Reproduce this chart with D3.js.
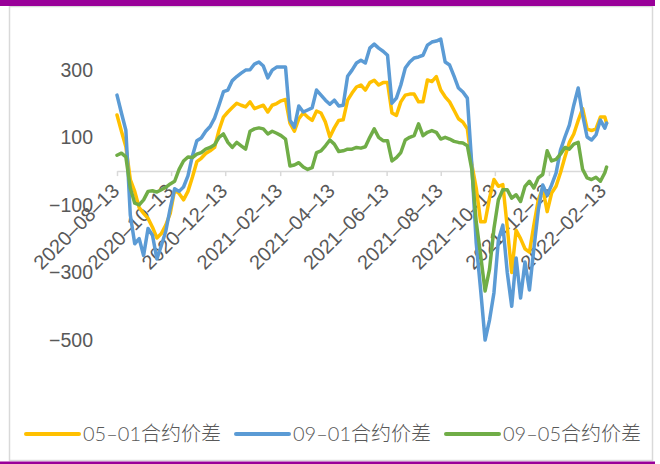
<!DOCTYPE html>
<html>
<head>
<meta charset="utf-8">
<title>合约价差</title>
<style>
  html, body { margin: 0; padding: 0; background: #fff; }
  svg { display: block; font-family: Lato, "Noto Sans CJK SC", sans-serif; font-weight: 300; }
</style>
</head>
<body>
<svg width="660" height="464"></svg>
<script src="https://cdn.jsdelivr.net/npm/d3@7"></script>
<script>
// sample dates (every 5 days) for the three spread series
var dates = [
  "2020-08-13","2020-08-18","2020-08-23","2020-08-28","2020-09-02","2020-09-07","2020-09-12","2020-09-17","2020-09-22","2020-09-27",
  "2020-10-02","2020-10-07","2020-10-12","2020-10-17","2020-10-22","2020-10-27","2020-11-01","2020-11-06","2020-11-11","2020-11-16",
  "2020-11-21","2020-11-26","2020-12-01","2020-12-06","2020-12-11","2020-12-16","2020-12-21","2020-12-26","2020-12-31","2021-01-05",
  "2021-01-10","2021-01-15","2021-01-20","2021-01-25","2021-01-30","2021-02-04","2021-02-09","2021-02-14","2021-02-19","2021-02-24",
  "2021-03-01","2021-03-06","2021-03-11","2021-03-16","2021-03-21","2021-03-26","2021-03-31","2021-04-05","2021-04-10","2021-04-15",
  "2021-04-20","2021-04-25","2021-04-30","2021-05-05","2021-05-10","2021-05-15","2021-05-20","2021-05-25","2021-05-30","2021-06-04",
  "2021-06-09","2021-06-14","2021-06-19","2021-06-24","2021-06-29","2021-07-04","2021-07-09","2021-07-14","2021-07-19","2021-07-24",
  "2021-07-29","2021-08-03","2021-08-08","2021-08-13","2021-08-18","2021-08-23","2021-08-28","2021-09-02","2021-09-07","2021-09-12",
  "2021-09-17","2021-09-22","2021-09-27","2021-10-02","2021-10-07","2021-10-12","2021-10-17","2021-10-22","2021-10-27","2021-11-01",
  "2021-11-06","2021-11-11","2021-11-16","2021-11-21","2021-11-26","2021-12-01","2021-12-06","2021-12-11","2021-12-16","2021-12-21",
  "2021-12-26","2021-12-31","2022-01-05","2022-01-10","2022-01-15","2022-01-20","2022-01-25","2022-01-30","2022-02-04","2022-02-09",
  "2022-02-14","2022-02-16"
];

var spread0501 = [
  166,118,72,-25,-60,-108,-125,-140,-166,-198,
  -185,-160,-125,-56,-66,-85,-60,-18,28,38,
  52,60,70,121,160,175,188,201,195,190,
  205,185,190,195,175,195,200,208,212,142,
  118,155,172,160,150,178,172,145,101,128,
  150,152,210,231,249,255,240,262,269,255,
  262,262,172,165,205,225,228,228,205,205,
  270,265,280,240,220,205,180,155,145,125,
  20,-50,-150,-150,-80,-25,-45,-40,-166,-300,
  -175,-200,-230,-240,-160,-85,-50,-120,-65,-45,
  -5,42,85,110,150,185,125,120,125,160,
  160,142
];

var spread0901 = [
  225,172,121,-130,-215,-200,-250,-170,-190,-260,
  -220,-178,-110,-52,-60,-47,-14,45,90,98,
  118,132,157,195,235,240,268,280,290,299,
  300,317,323,311,276,299,308,308,308,151,
  130,193,175,181,187,240,225,210,198,210,
  193,195,281,299,320,328,320,364,376,364,
  355,343,201,216,255,305,323,335,338,343,
  373,382,385,391,323,314,281,246,234,216,
  20,-213,-352,-500,-441,-360,-204,-160,-300,-400,
  -257,-376,-269,-352,-230,-115,-41,-71,-41,-6,
  62,101,136,195,246,166,101,92,107,151,
  127,142
];

var spread0905 = [
  47,53,42,-50,-95,-100,-85,-60,-58,-62,
  -55,-48,-38,-30,5,30,42,40,50,55,
  65,70,78,100,110,85,70,85,75,65,
  118,125,128,125,110,118,112,105,95,15,
  18,25,12,5,10,55,60,75,92,80,
  58,60,65,65,70,68,72,100,125,100,
  90,90,30,40,55,92,100,105,140,105,
  115,120,115,95,100,95,88,85,83,75,
  5,-150,-250,-355,-290,-170,-85,-55,-55,-80,
  -70,-90,-45,-30,-50,-20,-10,60,30,35,
  50,70,65,80,85,5,-20,-25,-18,-30,
  -5,12
];

var seriesNames = ["05-01合约价差", "09-01合约价差", "09-05合约价差"];
var seriesColors = ["#FFC000", "#5B9BD5", "#70AD47"];
var xTickLabels = ["2020-08-13","2020-10-13","2020-12-13","2021-02-13","2021-04-13",
                   "2021-06-13","2021-08-13","2021-10-13","2021-12-13","2022-02-13"];
var yTickValues = [300, 100, -100, -300, -500];

var parse = d3.timeParse("%Y-%m-%d");
var dateObjs = dates.map(parse);
var allSeries = [spread0501, spread0901, spread0905];

var svg = d3.select("svg");
var textColor = "#595959";
var axisColor = "#d9d9d9";

// frame
svg.append("rect").attr("x", 9.5).attr("y", 6.5).attr("width", 643).attr("height", 454)
  .attr("fill", "#fff").attr("stroke", axisColor).attr("stroke-width", 1.5);
svg.append("rect").attr("x", 0).attr("y", 0).attr("width", 655).attr("height", 6).attr("fill", "#990099");
svg.append("rect").attr("x", 0).attr("y", 461.5).attr("width", 655).attr("height", 3).attr("fill", "#990099");

var x = d3.scaleTime()
  .domain([parse("2020-08-13"), parse("2022-02-16")])
  .range([117, 606.6]);

var y = d3.scaleLinear()
  .domain([-500, 400])
  .range([340, 36]);

// x axis on the zero line
var xAxis = d3.axisBottom(x)
  .tickValues(xTickLabels.map(parse))
  .tickSize(5)
  .tickSizeOuter(0)
  .tickFormat(function (d, i) { return xTickLabels[i].replace(/-/g, "\u2013") });

var gx = svg.append("g").attr("transform", "translate(0," + y(0) + ")").call(xAxis);
gx.select(".domain").attr("stroke", axisColor).attr("stroke-width", 1.5);
gx.selectAll(".tick line").attr("stroke", axisColor).attr("stroke-width", 1.5);
gx.selectAll(".tick text")
  .attr("fill", textColor)
  .attr("font-size", 20)
  .attr("text-anchor", "end")
  .attr("x", 0).attr("y", 0).attr("dy", 0)
  .attr("transform", "translate(3,21) rotate(-45)");

// y axis labels only
var yAxis = d3.axisLeft(y).tickValues(yTickValues).tickSize(0).tickPadding(0);
var gy = svg.append("g").attr("transform", "translate(93,0)").call(yAxis);
gy.select(".domain").remove();
gy.selectAll(".tick text").attr("fill", textColor).attr("font-size", 19.5);

// lines
var line = d3.line()
  .x(function (d, i) { return x(dateObjs[i]) })
  .y(function (d) { return y(d) });

allSeries.forEach(function (vals, k) {
  svg.append("path")
    .datum(vals)
    .attr("fill", "none")
    .attr("stroke", seriesColors[k])
    .attr("stroke-width", 3.5)
    .attr("stroke-linejoin", "round")
    .attr("stroke-linecap", "round")
    .attr("d", line);
});

// legend
var lx = 26, ly = 434;
seriesNames.forEach(function (name, k) {
  var g = svg.append("g").attr("transform", "translate(" + lx + "," + ly + ")");
  g.append("line").attr("x1", 0).attr("x2", 53).attr("y1", 0).attr("y2", 0)
    .attr("stroke", seriesColors[k]).attr("stroke-width", 4).attr("stroke-linecap", "round");
  var t = g.append("text").attr("x", 57).attr("y", 0).attr("dy", "0.35em")
    .attr("font-size", 20).attr("fill", textColor)
    .text(name.replace(/-/g, "\u2013"));
  lx += 57 + t.node().getComputedTextLength() + 15;
});
</script>
</body>
</html>
